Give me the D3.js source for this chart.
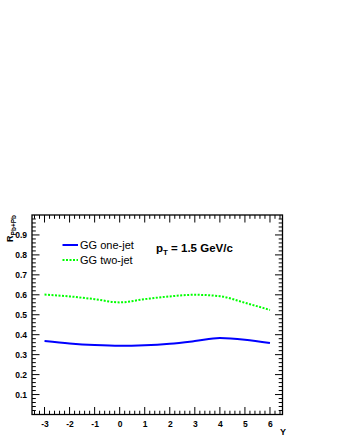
<!DOCTYPE html>
<html><head><meta charset="utf-8">
<script src="https://cdn.jsdelivr.net/npm/d3@7"></script>
<style>body{margin:0;background:#fff}svg{display:block}</style>
</head><body>
<svg id="c" width="340" height="440"></svg>
<script>
const xVals = [-3,-2,-1,0,1,2,3,4,5,6];
const oneJet = [0.368,0.356,0.348,0.344,0.347,0.355,0.368,0.383,0.375,0.358];
const twoJet = [0.601,0.592,0.578,0.562,0.578,0.592,0.600,0.593,0.560,0.524];
const xTicks = [-3,-2,-1,0,1,2,3,4,5,6];
const yTicks = [0.1,0.2,0.3,0.4,0.5,0.6,0.7,0.8,0.9];
const seriesNames = ["GG one-jet","GG two-jet"];

const svg = d3.select("#c");
const L=32,R=282.5,T=215,B=414.5;
const x = d3.scaleLinear().domain([-3.5,6.5]).range([L,R]);
const y = d3.scaleLinear().domain([0,1]).range([B,T]);
const font = "Liberation Sans, Arial, sans-serif";

svg.append("rect").attr("x",L).attr("y",T).attr("width",R-L).attr("height",B-T)
  .attr("fill","none").attr("stroke","#000").attr("stroke-width",1.3);

const xMinor = d3.range(-3.4,6.5,0.2).map(v=>+v.toFixed(2));
const yMinor = d3.range(0.02,1.0,0.02).map(v=>+v.toFixed(2));
const isMaj = (v,arr)=>arr.some(a=>Math.abs(a-v)<1e-6);
const g = svg.append("g").attr("stroke","#000").attr("stroke-width",1);
xMinor.forEach(v=>{
  const len = isMaj(v,xTicks)?7.5:3.8;
  g.append("line").attr("x1",x(v)).attr("x2",x(v)).attr("y1",B).attr("y2",B-len);
  g.append("line").attr("x1",x(v)).attr("x2",x(v)).attr("y1",T).attr("y2",T+len);
});
yMinor.forEach(v=>{
  const len = isMaj(v,yTicks)?7.5:3.8;
  g.append("line").attr("y1",y(v)).attr("y2",y(v)).attr("x1",L).attr("x2",L+len);
  g.append("line").attr("y1",y(v)).attr("y2",y(v)).attr("x1",R).attr("x2",R-len);
});

const xa = svg.append("g").attr("transform",`translate(0,${B})`)
  .call(d3.axisBottom(x).tickValues(xTicks).tickSize(0).tickPadding(6).tickFormat(d=>String(d)));
xa.select(".domain").remove();
xa.selectAll("text").attr("font-family",font).attr("font-size",8.5).attr("font-weight","bold").attr("fill","#000");
const ya = svg.append("g").attr("transform",`translate(${L},0)`)
  .call(d3.axisLeft(y).tickValues(yTicks).tickSize(0).tickPadding(5).tickFormat(d3.format(".1f")));
ya.select(".domain").remove();
ya.selectAll("text").attr("font-family",font).attr("font-size",8.5).attr("font-weight","bold").attr("fill","#000");

const line = d3.line().x(d=>x(d[0])).y(d=>y(d[1])).curve(d3.curveMonotoneX);
svg.append("path").datum(xVals.map((v,i)=>[v,oneJet[i]])).attr("d",line)
  .attr("fill","none").attr("stroke","#0000ff").attr("stroke-width",2);
svg.append("path").datum(xVals.map((v,i)=>[v,twoJet[i]])).attr("d",line)
  .attr("fill","none").attr("stroke","#00ff00").attr("stroke-width",2).attr("stroke-dasharray","2,1.5");

const leg = [{c:"#0000ff",d:null,y:245},{c:"#00ff00",d:"2,1.5",y:260}];
leg.forEach((l,i)=>{
  svg.append("line").attr("x1",62.5).attr("x2",78).attr("y1",l.y).attr("y2",l.y)
    .attr("stroke",l.c).attr("stroke-width",2).attr("stroke-dasharray",l.d);
  svg.append("text").attr("x",80).attr("y",l.y+4).attr("font-family",font).attr("font-size",11)
    .attr("fill","#000").text(seriesNames[i]);
});
const pt = svg.append("text").attr("x",156).attr("y",252).attr("font-family",font)
  .attr("font-size",11.5).attr("font-weight","bold").attr("fill","#000");
pt.append("tspan").text("p");
pt.append("tspan").attr("font-size",8).attr("dy",3).text("T");
pt.append("tspan").attr("dy",-3).text(" = 1.5 GeV/c");

const yt = svg.append("text").attr("transform","translate(13,215) rotate(-90)").attr("text-anchor","end")
  .attr("font-family",font).attr("font-weight","bold").attr("font-size",9).attr("fill","#000");
yt.append("tspan").text("R");
yt.append("tspan").attr("font-size",6.5).attr("dy",2.5).text("Pb+Pb");
svg.append("text").attr("x",283).attr("y",435).attr("text-anchor","middle").attr("font-family",font)
  .attr("font-weight","bold").attr("font-size",9).attr("fill","#000").text("Y");
</script>
</body></html>
